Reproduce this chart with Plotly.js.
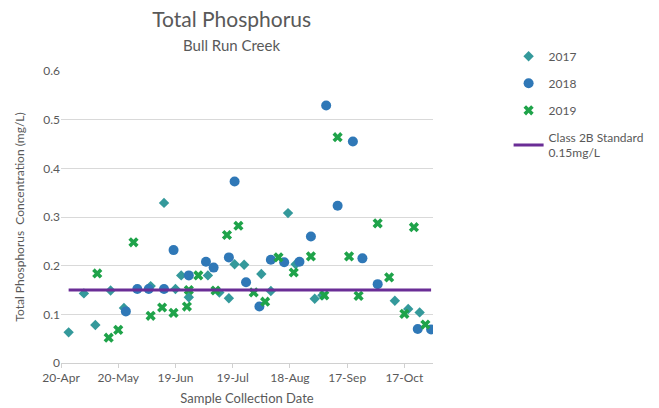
<!DOCTYPE html>
<html>
<head>
<meta charset="utf-8">
<script src="https://cdn.plot.ly/plotly-3.0.1.min.js"></script>
<style>html,body{margin:0;padding:0;background:#fff;}#chart{width:659px;height:408px;}</style>
</head>
<body>
<div id="chart"></div>
<script>
// Sample dates (all years mapped onto one season) and concentrations (mg/L)
const dates2017 = ['2017-04-24','2017-05-02','2017-05-08','2017-05-16','2017-05-23','2017-06-06','2017-06-13','2017-06-19','2017-06-22','2017-06-26','2017-07-06','2017-07-12','2017-07-17','2017-07-20','2017-07-25','2017-08-03','2017-08-08','2017-08-17','2017-08-21','2017-08-31','2017-09-04','2017-10-12','2017-10-19','2017-10-25'];
const tp2017 = [0.063,0.143,0.078,0.149,0.113,0.158,0.329,0.152,0.180,0.135,0.180,0.145,0.133,0.203,0.202,0.183,0.148,0.308,0.203,0.132,0.139,0.128,0.111,0.104];

const dates2018 = ['2017-05-24','2017-05-30','2017-06-05','2017-06-13','2017-06-18','2017-06-26','2017-07-05','2017-07-09','2017-07-17','2017-07-20','2017-07-26','2017-08-02','2017-08-08','2017-08-15','2017-08-23','2017-08-29','2017-09-06','2017-09-12','2017-09-20','2017-09-25','2017-10-03','2017-10-24','2017-10-31'];
const tp2018 = [0.106,0.152,0.152,0.152,0.232,0.180,0.208,0.196,0.217,0.373,0.166,0.116,0.212,0.207,0.208,0.260,0.529,0.323,0.455,0.215,0.162,0.070,0.069];

const dates2019 = ['2017-05-09','2017-05-15','2017-05-20','2017-05-28','2017-06-06','2017-06-12','2017-06-18','2017-06-25','2017-06-26','2017-07-01','2017-07-10','2017-07-16','2017-07-22','2017-07-30','2017-08-05','2017-08-12','2017-08-20','2017-08-29','2017-09-05','2017-09-12','2017-09-18','2017-09-23','2017-10-03','2017-10-09','2017-10-17','2017-10-22','2017-10-28'];
const tp2019 = [0.184,0.052,0.068,0.248,0.097,0.114,0.103,0.116,0.150,0.180,0.149,0.263,0.282,0.145,0.126,0.217,0.186,0.219,0.139,0.464,0.219,0.138,0.287,0.176,0.101,0.279,0.079];

const standardDates = ['2017-04-24','2017-10-31'];
const standardValues = [0.15, 0.15];

const xTickVals = ['2017-04-20','2017-05-20','2017-06-19','2017-07-19','2017-08-18','2017-09-17','2017-10-17'];
const xTickText = ['20-Apr','20-May','19-Jun','19-Jul','18-Aug','17-Sep','17-Oct'];
const yTickVals = [0,0.1,0.2,0.3,0.4,0.5,0.6];
const yTickText = ['0','0.1','0.2','0.3','0.4','0.5','0.6'];

const FONT = 'Lato, "Noto Sans", sans-serif';
const GRAY = '#595959';

const traces = [
  {x: dates2017, y: tp2017, type: 'scatter', mode: 'markers', name: '2017', legendgroup: 'a',
   marker: {symbol: 'diamond', size: 8, color: '#34999b'}},
  {x: dates2018, y: tp2018, type: 'scatter', mode: 'markers', name: '2018', legendgroup: 'b',
   marker: {symbol: 'circle', size: 10, color: '#2f78b7'}},
  {x: dates2019, y: tp2019, type: 'scatter', mode: 'markers', name: '2019', legendgroup: 'c',
   marker: {symbol: 'x', size: 9, color: '#1fa34a'}},
  {x: standardDates, y: standardValues, type: 'scatter', mode: 'lines', name: 'Class 2B Standard<br>0.15mg/L', legendgroup: 'd',
   line: {color: '#6a2d96', width: 3}}
];

const layout = {
  width: 659, height: 408,
  margin: {l: 61, r: 225, t: 71, b: 45, pad: 0},
  paper_bgcolor: '#fff', plot_bgcolor: '#fff',
  font: {family: FONT, color: GRAY, size: 12},
  title: {text: 'Total Phosphorus', font: {family: FONT, size: 21, color: GRAY},
          x: 231.7/659, xanchor: 'center', xref: 'container', y: 1 - 20/408, yanchor: 'middle', yref: 'container'},
  annotations: [
    {text: 'Bull Run Creek', xref: 'paper', yref: 'paper', x: (231.7-61)/373, y: (363 - 45)/292,
     xanchor: 'center', yanchor: 'middle', showarrow: false, font: {family: FONT, size: 15, color: GRAY}}
  ],
  xaxis: {
    type: 'date', range: ['2017-04-20', '2017-11-01'],
    tickvals: xTickVals, ticktext: xTickText,
    showgrid: false, zeroline: false,
    showline: true, linecolor: '#d0d0d0', linewidth: 1,
    ticks: 'outside', ticklen: 4, tickcolor: '#d0d0d0',
    tickfont: {family: FONT, size: 12, color: GRAY},
    title: {text: 'Sample Collection Date', font: {family: FONT, size: 13, color: GRAY}, standoff: 9}
  },
  yaxis: {
    range: [0, 0.6], tickvals: yTickVals, ticktext: yTickText,
    showgrid: true, gridcolor: '#d9d9d9', gridwidth: 1,
    zeroline: false, showline: false, ticks: '',
    tickfont: {family: FONT, size: 12, color: GRAY},
    title: {text: 'Total Phosphorus  Concentration (mg/L)', font: {family: FONT, size: 12, color: GRAY}, standoff: 16}
  },
  showlegend: true,
  legend: {x: 1.20, xanchor: 'left', y: 1.10, yanchor: 'top', bgcolor: 'rgba(0,0,0,0)',
           font: {family: FONT, size: 12, color: GRAY}, tracegroupgap: 8, itemwidth: 30}
};

Plotly.newPlot('chart', traces, layout, {displayModeBar: false, staticPlot: true});
</script>
</body>
</html>
